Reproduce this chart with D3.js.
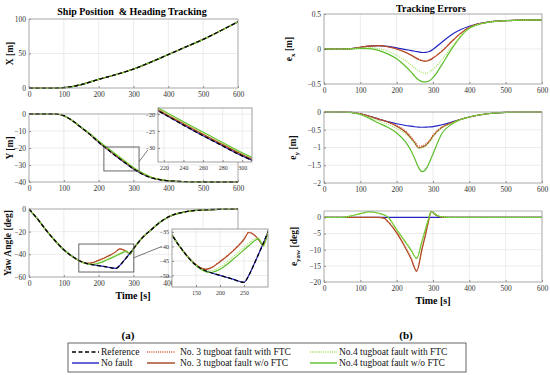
<!DOCTYPE html>
<html>
<head>
<meta charset="utf-8">
<script src="https://cdn.jsdelivr.net/npm/d3@7"></script>
<style>
  body { margin: 0; background: #fff; }
  text { font-family: "Liberation Serif", "Times New Roman", serif; }
</style>
</head>
<body>
<svg id="chart" width="550" height="375"></svg>
<script>
// ---- position data (left column) ----
const tPos = [0, 50, 100, 150, 200, 250, 300, 350, 400, 450, 500, 550, 600];
const posX = [0, -0.3, 0.5, 5, 12.5, 19.5, 27.5, 37.5, 48.5, 59.5, 70.5, 83, 96];

const tY = [0, 50, 75, 100, 125, 150, 175, 200, 225, 250, 275, 300, 325, 350, 375, 400, 450, 500, 550, 600];
const posYRef = [0, 0, 0, -1, -4, -8, -12, -16.6, -20.8, -24.8, -28.6, -32.3, -35.3, -37.4, -38.6, -39.3, -39.8, -40, -40, -40];
const posYNo3 = [0, 0, 0, -1, -4, -8, -11.9, -16.4, -20.5, -24.4, -28.2, -31.9, -35, -37.3, -38.6, -39.3, -39.8, -40, -40, -40];
const posYNo4Ftc = [0, 0, 0, -1, -3.9, -7.9, -11.7, -16.1, -20.1, -24, -27.8, -31.6, -34.8, -37.2, -38.5, -39.3, -39.8, -40, -40, -40];
const posYNo4 = [0, 0, 0, -1, -3.9, -7.8, -11.6, -15.9, -19.9, -23.8, -27.6, -31.4, -34.6, -37.1, -38.5, -39.3, -39.8, -40, -40, -40];

const tYaw = [0, 25, 50, 75, 100, 125, 150, 160, 170, 180, 200, 225, 250, 260, 270, 280, 290, 300, 325, 350, 375, 400, 450, 500, 550, 600];
const yawRef = [0, -9, -19, -28, -36, -42, -46.5, -47.6, -48.4, -49, -50, -51.2, -52.4, -50, -46.5, -42.8, -39, -35, -25.5, -18.5, -12, -7, -2.4, -0.8, -0.2, 0];
const yawNo3 = [0, -9, -19, -28, -36, -42, -46.3, -47.4, -47.9, -47.5, -45.3, -41.9, -37.6, -35.2, -35.9, -37.6, -39.6, -35, -25.5, -18.5, -12, -7, -2.4, -0.8, -0.2, 0];
const yawNo3Ftc = [0, -9, -19, -28, -36, -42, -46.3, -47.3, -47.8, -47.4, -45.1, -41.7, -37.4, -35.1, -35.8, -37.5, -39.5, -35, -25.5, -18.5, -12, -7, -2.4, -0.8, -0.2, 0];
const yawNo4Ftc = [0, -9, -19, -28, -36, -42, -46.5, -47.6, -48.3, -48.4, -47.1, -43.9, -40.3, -38.9, -37.6, -37.1, -39.4, -35, -25.5, -18.5, -12, -7, -2.4, -0.8, -0.2, 0];
const yawNo4 = [0, -9, -19, -28, -36, -42, -46.6, -47.9, -48.7, -49, -47.9, -44.8, -41.2, -39.8, -38.3, -37.4, -39.8, -35, -25.5, -18.5, -12, -7, -2.4, -0.8, -0.2, 0];

// ---- tracking errors (right column) ----
const tErr = [0, 25, 50, 75, 100, 125, 150, 175, 200, 225, 240, 250, 260, 270, 280, 290, 300, 325, 350, 375, 400, 450, 500, 550, 600];
const exNoFault = [0, 0, 0, 0.005, 0.025, 0.042, 0.047, 0.037, 0.017, -0.008, -0.022, -0.032, -0.041, -0.05, -0.047, -0.035, -0.005, 0.1, 0.2, 0.275, 0.325, 0.385, 0.405, 0.412, 0.415];
const exNo3 = [0, 0, 0, 0.005, 0.025, 0.042, 0.047, 0.032, 0.0, -0.05, -0.09, -0.12, -0.15, -0.168, -0.175, -0.16, -0.13, -0.03, 0.1, 0.22, 0.31, 0.382, 0.404, 0.412, 0.415];
const exNo3Ftc = [0, 0, 0, 0.005, 0.025, 0.042, 0.047, 0.033, 0.002, -0.045, -0.085, -0.113, -0.142, -0.16, -0.167, -0.152, -0.122, -0.025, 0.1, 0.22, 0.31, 0.382, 0.404, 0.412, 0.415];
const exNo4Ftc = [0, 0, 0, 0.003, 0.015, 0.02, 0.005, -0.03, -0.09, -0.17, -0.23, -0.27, -0.31, -0.335, -0.345, -0.33, -0.29, -0.15, 0.02, 0.18, 0.3, 0.38, 0.404, 0.412, 0.415];
const exNo4 = [0, 0, 0, 0.002, 0.01, 0.005, -0.02, -0.07, -0.14, -0.25, -0.33, -0.39, -0.44, -0.465, -0.47, -0.455, -0.41, -0.22, -0.01, 0.17, 0.295, 0.38, 0.404, 0.412, 0.415];

const eyNoFault = [0, 0, 0, -0.01, -0.05, -0.12, -0.2, -0.27, -0.33, -0.38, -0.4, -0.415, -0.425, -0.43, -0.428, -0.42, -0.41, -0.36, -0.29, -0.21, -0.14, -0.05, -0.01, 0, 0];
const eyNo3 = [0, 0, 0, -0.01, -0.05, -0.12, -0.2, -0.28, -0.4, -0.57, -0.74, -0.87, -1.01, -0.99, -0.94, -0.83, -0.68, -0.43, -0.31, -0.21, -0.14, -0.05, -0.01, 0, 0];
const eyNo3Ftc = [0, 0, 0, -0.01, -0.05, -0.12, -0.2, -0.27, -0.38, -0.54, -0.7, -0.83, -0.96, -0.95, -0.9, -0.8, -0.65, -0.42, -0.31, -0.21, -0.14, -0.05, -0.01, 0, 0];
const eyNo4Ftc = [0, 0, 0, -0.012, -0.06, -0.15, -0.25, -0.35, -0.46, -0.62, -0.77, -0.89, -1.02, -1.01, -0.96, -0.85, -0.7, -0.45, -0.32, -0.215, -0.14, -0.05, -0.01, 0, 0];
const eyNo4 = [0, 0, 0, -0.015, -0.07, -0.18, -0.31, -0.43, -0.59, -0.85, -1.1, -1.32, -1.56, -1.68, -1.62, -1.42, -1.18, -0.6, -0.35, -0.22, -0.14, -0.05, -0.01, 0, 0];

const tErrYaw = [0, 25, 50, 75, 100, 125, 150, 165, 175, 200, 225, 240, 255, 270, 280, 287, 295, 310, 325, 350, 400, 500, 600];
const eyawNoFault = [0, 0, 0, 0, 0, 0, 0, 0, 0, 0, 0, 0, 0, 0, 0, 0, 0, 0, 0, 0, 0, 0, 0];
const eyawNo3 = [0, 0, 0, 0, 0, 0, 0, -0.2, -1.2, -4.8, -9.6, -12.9, -16.7, -9.7, -5, -1.5, 1.8, 0.6, 0.1, 0, 0, 0, 0];
const eyawNo3Ftc = [0, 0, 0, 0, 0, 0, 0, -0.2, -1.1, -4.6, -9.3, -12.6, -16.4, -9.5, -4.9, -1.4, 1.8, 0.6, 0.1, 0, 0, 0, 0];
const eyawNo4Ftc = [0, 0, 0, 0.5, 1.2, 1.7, 1.3, 0.8, 0.2, -3.7, -7.6, -10, -12.5, -7.1, -3.4, -0.7, 1.8, 0.7, 0.2, 0, 0, 0, 0];
const eyawNo4 = [0, 0, 0, 0.5, 1.2, 1.7, 1.3, 0.8, 0.2, -3.8, -7.8, -10.2, -12.7, -7.2, -3.4, -0.7, 1.8, 0.7, 0.2, 0, 0, 0, 0];

const timeTicks = [0, 100, 200, 300, 400, 500, 600];

const STYLE = {
  ref:    { color: "#000000", dash: "4,2.5", w: 1.3, label: "Reference" },
  noFault:{ color: "#2323c4", dash: null,    w: 1.2, label: "No fault" },
  no3ftc: { color: "#d4522b", dash: "1,1.2", w: 1.1, label: "No. 3 tugboat fault with FTC" },
  no3:    { color: "#a4431f", dash: null,    w: 1.2, label: "No. 3 tugboat fault w/o FTC" },
  no4ftc: { color: "#9ce24c", dash: "1,1.2", w: 1.1, label: "No.4 tugboat fault with FTC" },
  no4:    { color: "#5bbd2b", dash: null,    w: 1.2, label: "No.4 tugboat fault w/o FTC" },
};

const svg = d3.select("#chart");
let clipCount = 0;

function drawPanel(cfg) {
  const x = d3.scaleLinear().domain(cfg.xd).range([cfg.left, cfg.right]);
  const y = d3.scaleLinear().domain(cfg.yd).range([cfg.bottom, cfg.top]);
  const fs = cfg.fs || 7.5;
  const g = svg.append("g");

  g.append("rect")
    .attr("x", cfg.left).attr("y", cfg.top)
    .attr("width", cfg.right - cfg.left).attr("height", cfg.bottom - cfg.top)
    .attr("fill", "#fff");

  // grid
  g.selectAll(".vg").data(cfg.xticks).join("line")
    .attr("x1", d => x(d)).attr("x2", d => x(d))
    .attr("y1", cfg.top).attr("y2", cfg.bottom)
    .attr("stroke", "#e4e4e4").attr("stroke-width", 0.7);
  g.selectAll(".hg").data(cfg.yticks).join("line")
    .attr("y1", d => y(d)).attr("y2", d => y(d))
    .attr("x1", cfg.left).attr("x2", cfg.right)
    .attr("stroke", "#e4e4e4").attr("stroke-width", 0.7);

  const id = "clip" + (clipCount++);
  svg.append("clipPath").attr("id", id).append("rect")
    .attr("x", cfg.left).attr("y", cfg.top - 1)
    .attr("width", cfg.right - cfg.left).attr("height", cfg.bottom - cfg.top + 2);

  const lines = g.append("g").attr("clip-path", `url(#${id})`);
  const line = d3.line().x(d => x(d[0])).y(d => y(d[1])).curve(d3.curveMonotoneX);
  cfg.series.forEach(s => {
    const st = STYLE[s.key];
    lines.append("path")
      .datum(s.t.map((t, i) => [t, s.v[i]]))
      .attr("d", line)
      .attr("fill", "none")
      .attr("stroke", st.color)
      .attr("stroke-width", st.w)
      .attr("stroke-dasharray", st.dash);
  });

  // axes
  const ax = g.append("g").attr("transform", `translate(0,${cfg.bottom})`)
    .call(d3.axisBottom(x).tickValues(cfg.xticks).tickSize(-2).tickPadding(3).tickFormat(d3.format("")));
  const ay = g.append("g").attr("transform", `translate(${cfg.left},0)`)
    .call(d3.axisLeft(y).tickValues(cfg.yticks).tickSize(-2).tickPadding(3).tickFormat(d3.format("")));
  [ax, ay].forEach(a => {
    a.select(".domain").remove();
    a.selectAll(".tick line").attr("stroke", "#444").attr("stroke-width", 0.6);
    a.selectAll("text").attr("font-size", fs).attr("fill", "#333")
      .attr("font-family", "Liberation Serif, serif");
  });
  ax.selectAll("text").attr("dy", "0.75em");

  g.append("rect")
    .attr("x", cfg.left).attr("y", cfg.top)
    .attr("width", cfg.right - cfg.left).attr("height", cfg.bottom - cfg.top)
    .attr("fill", "none").attr("stroke", cfg.frame || "#a0a0a0").attr("stroke-width", 0.8);

  return { x, y, g };
}

function yLabel(xPos, yPos, parts) {
  const t = svg.append("text")
    .attr("transform", `translate(${xPos},${yPos}) rotate(-90)`)
    .attr("text-anchor", "middle")
    .attr("font-size", 9.5).attr("font-weight", "bold").attr("fill", "#111");
  parts.forEach(p => {
    const ts = t.append("tspan").text(p.s);
    if (p.sub) ts.attr("font-size", 7).attr("dy", 3);
    if (p.up) ts.attr("dy", -3);
  });
}

function seriesOf(list) {
  return list.map(([key, t, v]) => ({ key, t, v }));
}

// ---- left column ----
const L = { left: 29, right: 238 };
const xSeries = seriesOf([
  ["noFault", tPos, posX], ["no3", tPos, posX], ["no3ftc", tPos, posX],
  ["no4", tPos, posX], ["no4ftc", tPos, posX], ["ref", tPos, posX],
]);
drawPanel({ ...L, top: 19, bottom: 88, xd: [0, 600], yd: [0, 100],
  xticks: timeTicks, yticks: [0, 50, 100], series: xSeries });

const ySeries = seriesOf([
  ["noFault", tY, posYRef], ["no3", tY, posYNo3], ["no3ftc", tY, posYNo3],
  ["no4", tY, posYNo4], ["no4ftc", tY, posYNo4Ftc], ["ref", tY, posYRef],
]);
const pY = drawPanel({ ...L, top: 114, bottom: 182, xd: [0, 600], yd: [-40, 0],
  xticks: timeTicks, yticks: [-40, -30, -20, -10, 0], series: ySeries });

const yawSeries = seriesOf([
  ["noFault", tYaw, yawRef], ["no3", tYaw, yawNo3], ["no3ftc", tYaw, yawNo3Ftc],
  ["no4", tYaw, yawNo4], ["no4ftc", tYaw, yawNo4Ftc], ["ref", tYaw, yawRef],
]);
const pYaw = drawPanel({ ...L, top: 209, bottom: 277, xd: [0, 600], yd: [-60, 0],
  xticks: timeTicks, yticks: [-60, -40, -20, 0], series: yawSeries });

// zoom boxes in main panels
const yBox = [215, 316, -33.5, -19.4];
svg.append("rect")
  .attr("x", pY.x(yBox[0])).attr("y", pY.y(yBox[3]))
  .attr("width", pY.x(yBox[1]) - pY.x(yBox[0])).attr("height", pY.y(yBox[2]) - pY.y(yBox[3]))
  .attr("fill", "none").attr("stroke", "#555").attr("stroke-width", 0.9);
const yawBox = [143, 301, -55.6, -30.9];
svg.append("rect")
  .attr("x", pYaw.x(yawBox[0])).attr("y", pYaw.y(yawBox[3]))
  .attr("width", pYaw.x(yawBox[1]) - pYaw.x(yawBox[0])).attr("height", pYaw.y(yawBox[2]) - pYaw.y(yawBox[3]))
  .attr("fill", "none").attr("stroke", "#555").attr("stroke-width", 0.9);

// insets
const insY = drawPanel({ left: 158, right: 252, top: 108, bottom: 162, xd: [214, 310], yd: [-34.1, -18.2],
  xticks: [220, 240, 260, 280, 300], yticks: [-30, -25, -20], fs: 6, frame: "#888", series: ySeries });
const insYaw = drawPanel({ left: 172, right: 268, top: 229, bottom: 287, xd: [100, 300], yd: [-54, -34],
  xticks: [150, 200, 250], yticks: [-50, -45, -40, -35], fs: 6, frame: "#888", series: yawSeries });

svg.append("line")
  .attr("x1", pY.x(yBox[1])).attr("y1", pY.y(-28))
  .attr("x2", 148).attr("y2", insY.y(-30.5))
  .attr("stroke", "#555").attr("stroke-width", 0.8);
svg.append("line")
  .attr("x1", pYaw.x(yawBox[1])).attr("y1", pYaw.y(-43))
  .attr("x2", 162).attr("y2", insYaw.y(-40))
  .attr("stroke", "#555").attr("stroke-width", 0.8);

// ---- right column ----
const R = { left: 324, right: 542 };
drawPanel({ ...R, top: 14, bottom: 84, xd: [0, 600], yd: [-0.5, 0.5],
  xticks: timeTicks, yticks: [-0.5, 0, 0.5],
  series: seriesOf([
    ["noFault", tErr, exNoFault], ["no3", tErr, exNo3], ["no3ftc", tErr, exNo3Ftc],
    ["no4", tErr, exNo4], ["no4ftc", tErr, exNo4Ftc],
  ]) });
drawPanel({ ...R, top: 112, bottom: 183, xd: [0, 600], yd: [-2, 0],
  xticks: timeTicks, yticks: [-2, -1.5, -1, -0.5, 0],
  series: seriesOf([
    ["noFault", tErr, eyNoFault], ["no3", tErr, eyNo3], ["no3ftc", tErr, eyNo3Ftc],
    ["no4", tErr, eyNo4], ["no4ftc", tErr, eyNo4Ftc],
  ]) });
drawPanel({ ...R, top: 211, bottom: 282, xd: [0, 600], yd: [-20, 2],
  xticks: timeTicks, yticks: [-20, -15, -10, -5, 0],
  series: seriesOf([
    ["noFault", tErrYaw, eyawNoFault], ["no3", tErrYaw, eyawNo3], ["no3ftc", tErrYaw, eyawNo3Ftc],
    ["no4", tErrYaw, eyawNo4], ["no4ftc", tErrYaw, eyawNo4Ftc],
  ]) });

// ---- labels ----
svg.append("text").attr("x", 132).attr("y", 15).attr("text-anchor", "middle")
  .attr("font-size", 10).attr("font-weight", "bold").text("Ship Position  & Heading Tracking")
  .attr("xml:space", "preserve").style("white-space", "pre");
svg.append("text").attr("x", 431).attr("y", 12).attr("text-anchor", "middle")
  .attr("font-size", 10).attr("font-weight", "bold").text("Tracking Errors");

yLabel(13, 53.5, [{ s: "X [m]" }]);
yLabel(13, 148, [{ s: "Y [m]" }]);
yLabel(11, 243, [{ s: "Yaw Angle [deg]" }]);
yLabel(292, 49, [{ s: "e" }, { s: "x", sub: true }, { s: " [m]", up: true }]);
yLabel(296, 147.5, [{ s: "e" }, { s: "y", sub: true }, { s: " [m]", up: true }]);
yLabel(297, 246.5, [{ s: "e" }, { s: "yaw", sub: true }, { s: " [deg]", up: true }]);

svg.append("text").attr("x", 133).attr("y", 299).attr("text-anchor", "middle")
  .attr("font-size", 10).attr("font-weight", "bold").text("Time [s]");
svg.append("text").attr("x", 433).attr("y", 304).attr("text-anchor", "middle")
  .attr("font-size", 10).attr("font-weight", "bold").text("Time [s]");

svg.append("text").attr("x", 128).attr("y", 339).attr("text-anchor", "middle")
  .attr("font-size", 11).attr("font-weight", "bold").text("(a)");
svg.append("text").attr("x", 406).attr("y", 339).attr("text-anchor", "middle")
  .attr("font-size", 11).attr("font-weight", "bold").text("(b)");

// ---- legend ----
const legendKeys = [["ref", "noFault"], ["no3ftc", "no3"], ["no4ftc", "no4"]];
const legendCols = [{ x1: 72, x2: 99, tx: 101 }, { x1: 147, x2: 175, tx: 180 }, { x1: 310, x2: 337, tx: 339 }];
const legendRows = [352, 363];
svg.append("rect").attr("x", 68).attr("y", 343).attr("width", 398).attr("height", 29)
  .attr("fill", "#fff").attr("stroke", "#555").attr("stroke-width", 0.9);
legendKeys.forEach((col, ci) => {
  col.forEach((key, ri) => {
    const st = STYLE[key];
    const c = legendCols[ci], yy = legendRows[ri];
    svg.append("line").attr("x1", c.x1).attr("x2", c.x2).attr("y1", yy).attr("y2", yy)
      .attr("stroke", st.color).attr("stroke-width", key === "ref" ? 1.6 : 1.4)
      .attr("stroke-dasharray", st.dash);
    svg.append("text").attr("x", c.tx).attr("y", yy + 3.2)
      .attr("font-size", 9.5).attr("fill", "#111").text(st.label);
  });
});
</script>
</body>
</html>
